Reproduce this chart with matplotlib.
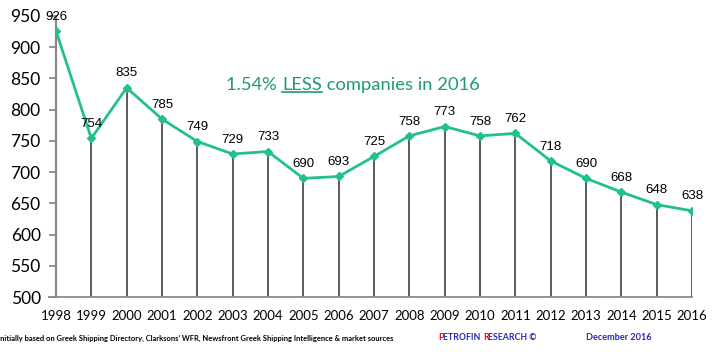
import numpy as np
from matplotlib import pyplot as plt

#%% data
years = ['1998', '1999', '2000', '2001', '2002', '2003', '2004', '2005', '2006', '2007',
         '2008', '2009', '2010', '2011', '2012', '2013', '2014', '2015', '2016']
companies = [926, 754, 835, 785, 749, 729, 733, 690, 693, 725,
             758, 773, 758, 762, 718, 690, 668, 648, 638]
yticks = [500, 550, 600, 650, 700, 750, 800, 850, 900, 950]

line_color = '#22c08c'
title_color = '#1f9a76'

#%% plot
fig = plt.figure(figsize=(7.2, 3.56), dpi=100)
ax = fig.add_axes([56/720, 59/356, 636/720, 281/356])

x = np.arange(len(years))
ax.vlines(x, 500, companies, color='#2e2e2e', linewidth=1.1, zorder=1)
ax.plot(x, companies, '-D', color=line_color, linewidth=2, markersize=4.5, zorder=3)

for xi, v in zip(x, companies):
    ax.annotate(str(v), (xi, v), xytext=(0, 6), textcoords='offset points',
                ha='center', va='bottom', fontsize=9.5, family='Liberation Sans', color='black')

ax.set_xlim(0, 18)
ax.set_ylim(500, 950)
ax.set_yticks(yticks)
ax.set_xticks(x)
ax.set_xticklabels(years)

for s in ['top', 'right']:
    ax.spines[s].set_visible(False)
ax.spines['left'].set_color('#8a8a8a')
ax.spines['left'].set_linewidth(1.6)
ax.spines['bottom'].set_color('#8a8a8a')
ax.spines['bottom'].set_linewidth(1.3)
ax.spines['bottom'].set_bounds(0, 18)

ax.tick_params(axis='y', length=5, width=1.3, color='#8a8a8a', pad=6, labelsize=12.5)
ax.tick_params(axis='x', length=0, pad=9, labelsize=9.5)
for lab in ax.get_yticklabels() + ax.get_xticklabels():
    lab.set_family('Lato')

# extend baseline a little left like the original
ax.plot([-0.2, 0], [500, 500], color='#8a8a8a', linewidth=1.3, clip_on=False)

# title with underlined LESS
ty = 1 - 85/356
tfs = 13.2
fig.text(282/720, ty, '1.54% ', ha='right', va='center', fontsize=tfs, color=title_color, family='Lato')
t = fig.text(282/720, ty, 'LESS', ha='left', va='center', fontsize=tfs, color=title_color, family='Lato')
fig.canvas.draw()
bb = t.get_window_extent()
fig.add_artist(plt.Line2D([bb.x0/720, bb.x1/720], [(bb.y0 + 1)/356, (bb.y0 + 1)/356],
                          color=title_color, linewidth=1.2))
fig.text(bb.x1/720, ty, ' companies in 2016', ha='left', va='center', fontsize=tfs,
         color=title_color, family='Lato')

# footer
fy = 1 - 338/356
fig.text(-0.003, fy, 'Initially based on Greek Shipping Directory, Clarksons\u2019 WFR, Newsfront Greek Shipping Intelligence & market sources',
         ha='left', va='center', fontsize=5.4, fontweight='bold', family='Lato')
fx = 438/720
parts = [('P', 'red'), ('ETROFIN ', '#2a2ab0'), ('R', 'red'), ('ESEARCH \u00a9', '#2a2ab0')]
for txt, c in parts:
    tt = fig.text(fx, fy, txt, ha='left', va='center', fontsize=6.3, fontweight='bold',
                  color=c, family='Lato')
    fig.canvas.draw()
    fx = tt.get_window_extent().x1 / 720
fig.text(586/720, fy, 'December 2016', ha='left', va='center', fontsize=6.6,
         fontweight='bold', color='#2a2ab0', family='Lato')

fig.savefig('out.png', dpi=100)
